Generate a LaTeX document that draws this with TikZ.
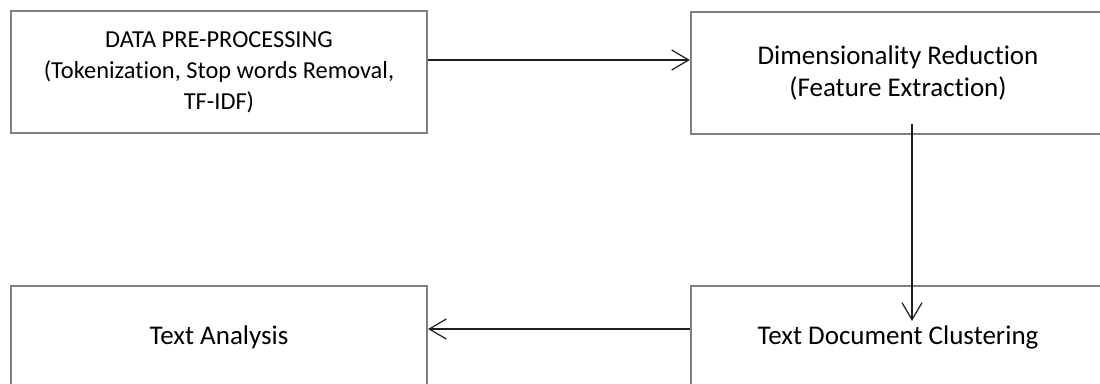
\documentclass[tikz,border=0pt]{standalone}
\usepackage{fontspec}
\setmainfont{Carlito}[Ligatures=NoCommon]
\usetikzlibrary{arrows.meta}
\definecolor{boxgray}{RGB}{128,128,128}
\definecolor{arrowblack}{RGB}{30,30,30}
\tikzset{
  stagebox/.style={draw=boxgray, line width=2.2pt, fill=white, align=center,
    inner sep=0pt, font=\fontsize{27}{31.7}\selectfont},
  flow/.style={draw=arrowblack, line width=1.2pt,
    -{Straight Barb[length=17pt,width=20pt,line width=1.2pt]}},
}
\begin{document}
\begin{tikzpicture}[x=1pt,y=-1pt]
  \useasboundingbox (0,0) rectangle (1100,383);
  \clip (0,0) rectangle (1100,383);

  % processing stages
  \node[stagebox, minimum width=416pt, minimum height=122pt,
        font=\fontsize{24.4}{31.2}\selectfont] (prep) at (219,72)
        {DATA PRE-PROCESSING\\(Tokenization, Stop words Removal,\\TF-IDF)};
  \node[stagebox, minimum width=414pt, minimum height=122pt] (dimred) at (898,73)
        {Dimensionality Reduction\\(Feature Extraction)};
  \node[stagebox, minimum width=414pt, minimum height=103pt] (cluster) at (898,337.5)
        {Text Document Clustering};
  \node[stagebox, minimum width=416pt, minimum height=103pt] (analysis) at (219,337.5)
        {Text Analysis};

  % flow between stages
  \draw[flow] ([yshift=12pt]prep.east) -- ([yshift=13pt]dimred.west);
  \draw[flow] ([shift={(14pt,11pt)}]dimred.south) -- ([shift={(14pt,-36pt)}]cluster.north);
  \draw[flow] ([yshift=8.5pt]cluster.west) -- ([yshift=8.5pt]analysis.east);
\end{tikzpicture}
\end{document}
